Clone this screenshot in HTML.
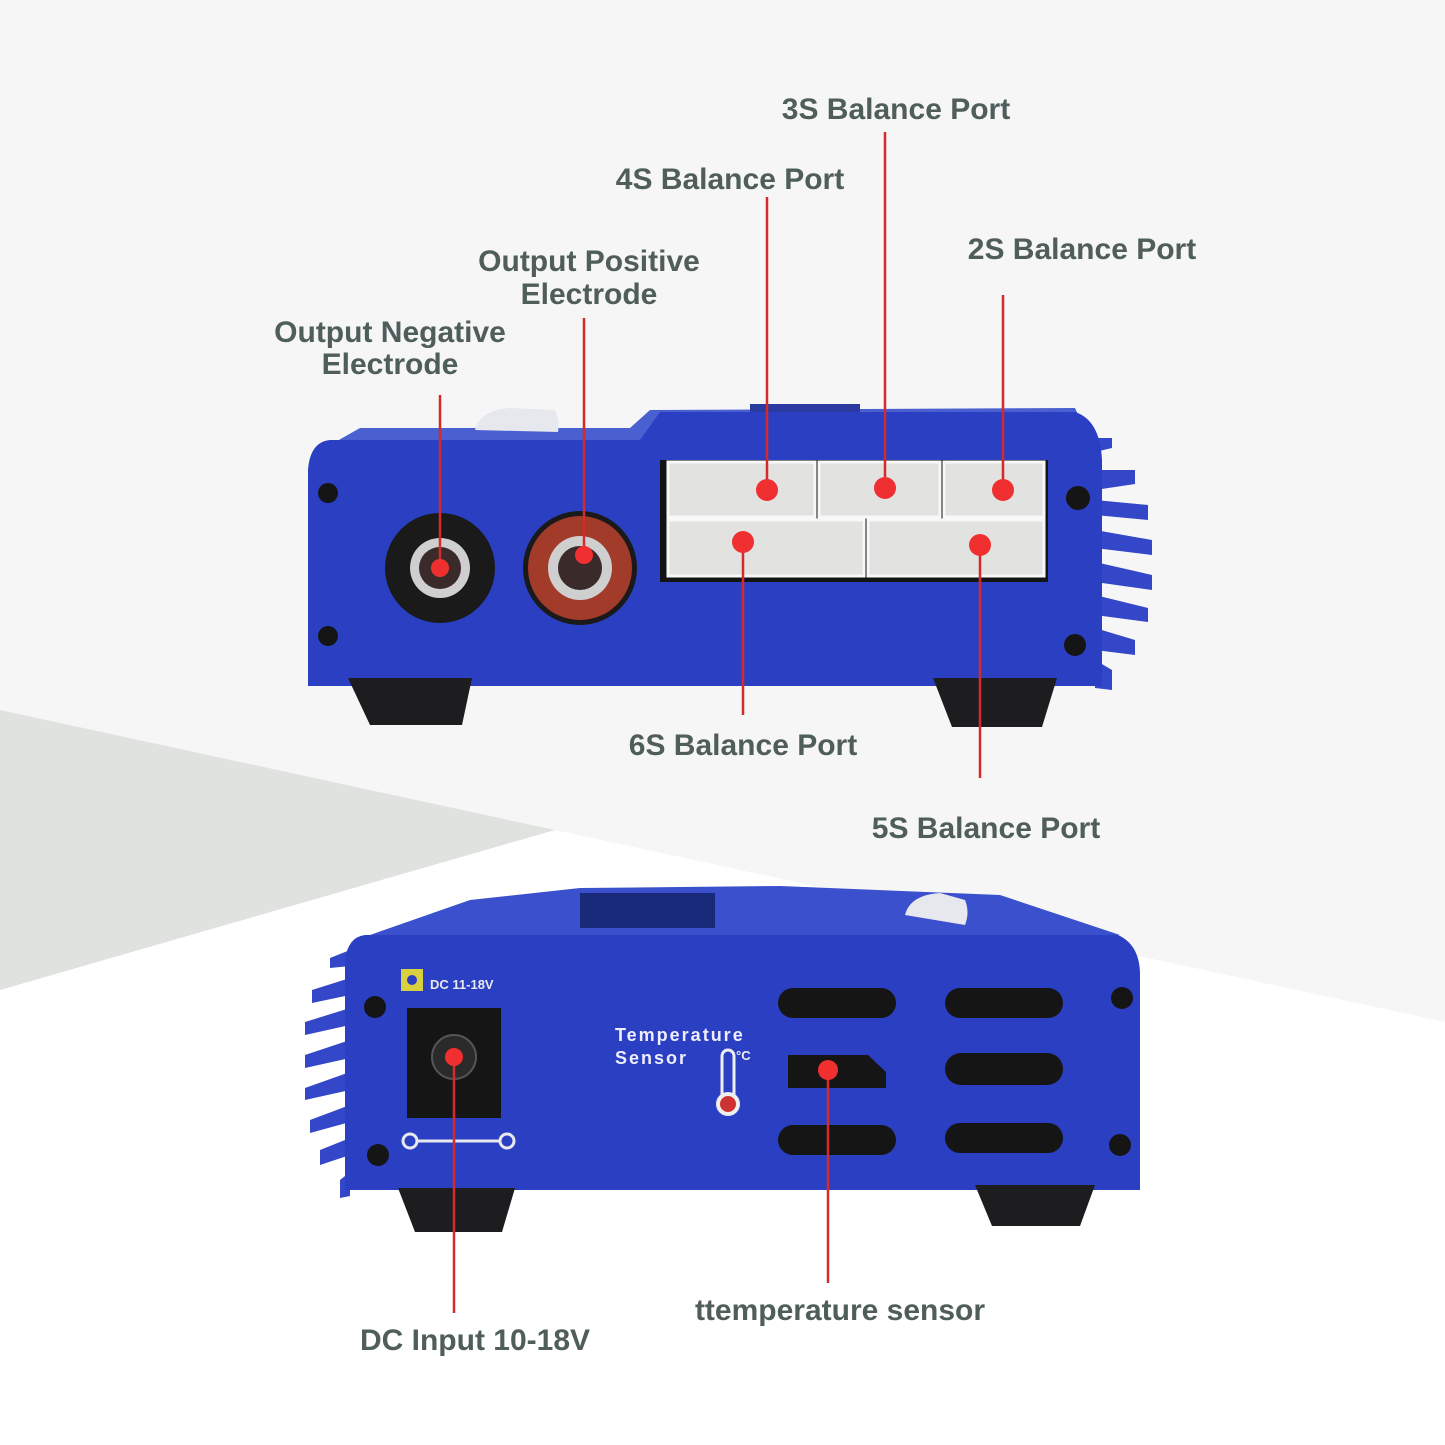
<!DOCTYPE html>
<html><head><style>
html,body{margin:0;padding:0;background:#fff}
svg{display:block}
text{font-family:"Liberation Sans",sans-serif;font-weight:bold;fill:#4f5d5b;font-size:30px}
</style></head><body>
<svg width="1445" height="1445" viewBox="0 0 1445 1445" xmlns="http://www.w3.org/2000/svg">
<rect width="1445" height="1445" fill="#ffffff"/>
<polygon points="0,0 1445,0 1445,1022 555,830 0,710" fill="#f6f6f6"/>
<polygon points="0,710 555,830 0,990" fill="#dfe2df"/>

<!-- TOP DEVICE -->
<g>
<!-- fins -->
<g fill="#3347c8">
<polygon points="1095,438 1112,438 1112,448 1095,452"/>
<polygon points="1095,470 1135,470 1135,484 1095,490"/>
<polygon points="1095,500 1148,505 1148,520 1095,515"/>
<polygon points="1095,530 1152,540 1152,555 1095,548"/>
<polygon points="1095,562 1152,575 1152,590 1095,582"/>
<polygon points="1095,595 1148,608 1148,622 1095,615"/>
<polygon points="1095,628 1135,640 1135,655 1095,650"/>
<polygon points="1095,660 1112,670 1112,690 1095,688"/>
</g>
<!-- top surface -->
<polygon points="360,428 630,428 650,410 1075,408 1090,440 640,445 330,445" fill="#4a60d0"/>
<rect x="750" y="404" width="110" height="8" fill="#2a3aa0"/>
<!-- knob -->
<path d="M475,430 Q480,410 510,408 L555,410 Q560,420 558,432 Z" fill="#e6e8ee"/>
<!-- face -->
<path d="M330,440 L640,440 L660,412 L1075,412 Q1100,420 1102,460 L1102,686 L308,686 L308,470 Q310,442 330,440 Z" fill="#2b3fc2"/>
<!-- feet -->
<polygon points="348,678 472,678 462,725 370,725" fill="#1d1d1f"/>
<polygon points="933,678 1057,678 1042,727 952,727" fill="#1d1d1f"/>
<!-- screws -->
<g fill="#151515"><circle cx="328" cy="493" r="10"/><circle cx="328" cy="636" r="10"/><circle cx="1078" cy="498" r="12"/><circle cx="1075" cy="645" r="11"/></g>
<!-- terminals -->
<circle cx="440" cy="568" r="55" fill="#1a1a1a"/>
<circle cx="440" cy="568" r="30" fill="#cfcfcf"/>
<circle cx="440" cy="568" r="21" fill="#3a2a2a"/>
<circle cx="580" cy="568" r="57" fill="#1a1a1a"/>
<circle cx="580" cy="568" r="52" fill="#a33b2a"/>
<circle cx="580" cy="568" r="32" fill="#cfcfcf"/>
<circle cx="580" cy="568" r="22" fill="#3a2a2a"/>
<!-- balance ports -->
<rect x="660" y="460" width="388" height="122" fill="#141414"/>
<g fill="#e2e3e0" stroke="#f8f8f8" stroke-width="3">
<rect x="668" y="462" width="147" height="55"/>
<rect x="819" y="462" width="121" height="55"/>
<rect x="944" y="462" width="100" height="55"/>
<rect x="668" y="520" width="196" height="56"/>
<rect x="868" y="520" width="176" height="56"/>
</g>
</g>

<!-- BOTTOM DEVICE -->
<g>
<g fill="#3347c8">
<polygon points="350,950 330,958 330,968 350,966"/>
<polygon points="350,978 312,990 312,1003 350,995"/>
<polygon points="350,1008 305,1022 305,1035 350,1025"/>
<polygon points="350,1040 305,1055 305,1068 350,1058"/>
<polygon points="350,1072 305,1088 305,1100 350,1090"/>
<polygon points="350,1105 310,1120 310,1133 350,1122"/>
<polygon points="350,1138 320,1150 320,1165 350,1155"/>
<polygon points="350,1172 340,1180 340,1198 350,1196"/>
</g>
<polygon points="370,935 470,900 580,888 780,886 1000,895 1120,935" fill="#3a50cc"/>
<rect x="580" y="893" width="135" height="35" fill="#1a2a7a"/>
<path d="M905,915 Q910,895 940,893 L965,900 Q970,912 965,925 Z" fill="#e6e8ee"/>
<path d="M365,935 L1118,935 Q1140,945 1140,975 L1140,1190 L345,1190 L345,960 Q348,937 365,935 Z" fill="#2b3fc2"/>
<polygon points="398,1188 515,1188 502,1232 415,1232" fill="#1d1d1f"/>
<polygon points="975,1185 1095,1185 1080,1226 992,1226" fill="#1d1d1f"/>
<g fill="#151515"><circle cx="375" cy="1007" r="11"/><circle cx="378" cy="1155" r="11"/><circle cx="1122" cy="998" r="11"/><circle cx="1120" cy="1145" r="11"/></g>
<rect x="401" y="969" width="22" height="22" fill="#d8d040"/>
<circle cx="412" cy="980" r="5" fill="#2b3fc2"/>
<text x="430" y="989" style="font-size:13px;fill:#e8e8f0">DC 11-18V</text>
<rect x="407" y="1008" width="94" height="110" fill="#151515"/>
<circle cx="454" cy="1057" r="22" fill="#2a2a2a" stroke="#555" stroke-width="2"/>
<g stroke="#e8e8f0" stroke-width="3" fill="none"><circle cx="410" cy="1141" r="7"/><line x1="417" y1="1141" x2="500" y2="1141"/><circle cx="507" cy="1141" r="7"/></g>
<text x="615" y="1041" style="font-size:18px;fill:#eef;letter-spacing:2px">Temperature</text>
<text x="615" y="1064" style="font-size:18px;fill:#eef;letter-spacing:2px">Sensor</text>
<rect x="722" y="1050" width="12" height="52" rx="6" fill="none" stroke="#eee" stroke-width="3"/>
<circle cx="728" cy="1104" r="12" fill="#eee"/><circle cx="728" cy="1104" r="8" fill="#c33"/>
<text x="736" y="1060" style="font-size:13px;fill:#eee">°C</text>
<g fill="#151515">
<rect x="778" y="988" width="118" height="30" rx="15"/>
<rect x="945" y="988" width="118" height="30" rx="15"/>
<rect x="778" y="1125" width="118" height="30" rx="15"/>
<rect x="945" y="1123" width="118" height="30" rx="15"/>
<rect x="945" y="1053" width="118" height="32" rx="16"/>
<polygon points="788,1055 868,1055 886,1072 886,1088 788,1088"/>
</g>
</g>

<!-- leader lines -->
<g stroke="#d42a2a" stroke-width="2.5">
<line x1="440" y1="395" x2="440" y2="568"/>
<line x1="584" y1="318" x2="584" y2="555"/>
<line x1="767" y1="197" x2="767" y2="490"/>
<line x1="885" y1="132" x2="885" y2="488"/>
<line x1="1003" y1="295" x2="1003" y2="490"/>
<line x1="743" y1="542" x2="743" y2="715"/>
<line x1="980" y1="545" x2="980" y2="778"/>
<line x1="454" y1="1057" x2="454" y2="1313"/>
<line x1="828" y1="1070" x2="828" y2="1283"/>
</g>
<g fill="#f03030">
<circle cx="440" cy="568" r="9"/><circle cx="584" cy="555" r="9"/>
<circle cx="767" cy="490" r="11"/><circle cx="885" cy="488" r="11"/><circle cx="1003" cy="490" r="11"/>
<circle cx="743" cy="542" r="11"/><circle cx="980" cy="545" r="11"/>
<circle cx="454" cy="1057" r="9"/><circle cx="828" cy="1070" r="10"/>
</g>

<!-- labels -->
<text x="896" y="119" text-anchor="middle">3S Balance Port</text>
<text x="730" y="189" text-anchor="middle">4S Balance Port</text>
<text x="1082" y="259" text-anchor="middle">2S Balance Port</text>
<text x="589" y="271" text-anchor="middle">Output Positive</text>
<text x="589" y="304" text-anchor="middle">Electrode</text>
<text x="390" y="342" text-anchor="middle">Output Negative</text>
<text x="390" y="374" text-anchor="middle">Electrode</text>
<text x="743" y="755" text-anchor="middle">6S Balance Port</text>
<text x="986" y="838" text-anchor="middle">5S Balance Port</text>
<text x="840" y="1320" text-anchor="middle">ttemperature sensor</text>
<text x="475" y="1350" text-anchor="middle">DC Input 10-18V</text>
</svg>
</body></html>
